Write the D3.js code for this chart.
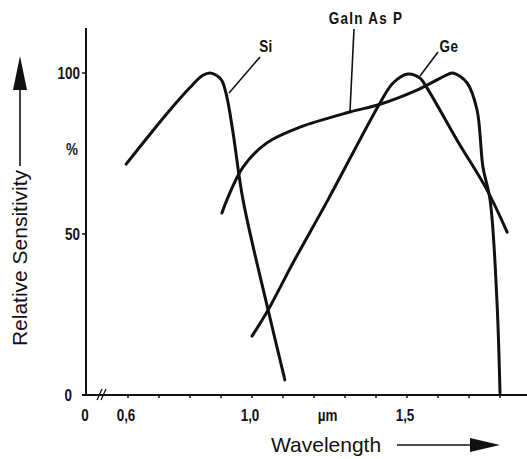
<!DOCTYPE html>
<html><head><meta charset="utf-8">
<script src="https://cdn.jsdelivr.net/npm/d3@7"></script>
<style>
html,body{margin:0;padding:0;background:#fff;}
svg{display:block;}
.lab{font-family:"Liberation Sans",Arial,sans-serif;font-weight:bold;font-size:16px;fill:#111;}
.big{font-family:"Liberation Sans",Arial,sans-serif;font-size:21px;fill:#111;}
</style></head>
<body>
<script>
// Data (wavelength in µm, relative sensitivity in %)
const siWavelength = [0.594,0.671,0.745,0.800,0.840,0.865,0.885,0.903,0.919,0.939,0.971,1.052,1.106];
const siSensitivity = [71.7,81.0,89.6,95.5,99.2,100,99.3,97.6,92.5,81.4,60.6,26.4,4.7];

const gaWavelength = [0.903,0.919,0.971,1.048,1.155,1.316,1.413,1.532,1.629,1.648,1.694,1.726,1.745,1.768,1.790,1.800];
const gaSensitivity = [56.5,60.6,70.8,78.3,83.2,87.9,90.3,94.7,99.4,100,96.9,88.5,70.8,60.6,29.5,0.6];

const geWavelength = [1.0,1.052,1.132,1.245,1.413,1.455,1.503,1.542,1.565,1.661,1.758,1.823];
const geSensitivity = [18.3,26.4,41.0,60.6,90.7,96.9,99.7,98.4,95.3,79.2,63.7,50.6];

const xTickValues = [0.6,0.7,0.8,0.9,1.0,1.1,1.2,1.3,1.4,1.5,1.6,1.7,1.8];
const xTickLabels = [[0.6,"0,6"],[1.0,"1,0"],[1.25,"µm"],[1.5,"1,5"]];
const yTickValues = [0,50,100];
const seriesNames = ["Si","GaIn As P","Ge"];

const W = 527, H = 459;
const svg = d3.select("body").append("svg").attr("width",W).attr("height",H);

const x = d3.scaleLinear().domain([0.6,1.8]).range([128,500]);
const y = d3.scaleLinear().domain([0,100]).range([395,73]);
const originX = 86;

function label(px, py, t, anchor, spacing){
  return svg.append("text").attr("class","lab")
    .attr("transform",`translate(${px},${py}) scale(0.84,1)`)
    .attr("text-anchor",anchor)
    .style("letter-spacing", spacing || "0px")
    .text(t);
}

// axes
svg.append("line").attr("x1",originX).attr("x2",originX).attr("y1",28).attr("y2",y(0))
  .attr("stroke","#111").attr("stroke-width",2);
svg.append("line").attr("x1",originX-4).attr("x2",W).attr("y1",y(0)).attr("y2",y(0))
  .attr("stroke","#111").attr("stroke-width",2);

// y ticks
yTickValues.forEach(v=>{
  svg.append("line").attr("x1",originX-4).attr("x2",originX).attr("y1",y(v)).attr("y2",y(v))
    .attr("stroke","#111").attr("stroke-width",1.5);
  label(v===0 ? 72 : 80, y(v)+6, v, "end");
});
label(72, 155, "%", "middle");

// x ticks
xTickValues.forEach(v=>{
  svg.append("line").attr("x1",x(v)).attr("x2",x(v)).attr("y1",y(0)).attr("y2",y(0)+3)
    .attr("stroke","#111").attr("stroke-width",1.5);
});
label(originX-1, 421, "0", "middle");
xTickLabels.forEach(([v,t])=>{ label(x(v)-2, 421, t, "middle"); });

// axis break
[0,4].forEach(d=>{
  svg.append("line").attr("x1",97+d).attr("y1",400).attr("x2",102+d).attr("y2",389)
    .attr("stroke","#111").attr("stroke-width",1.3);
});

// curves
const line = d3.line().x(d=>x(d[0])).y(d=>y(d[1])).curve(d3.curveCatmullRom.alpha(0.5));
const series = [
  d3.zip(siWavelength, siSensitivity),
  d3.zip(gaWavelength, gaSensitivity),
  d3.zip(geWavelength, geSensitivity)
];
series.forEach(s=>{
  svg.append("path").attr("d",line(s)).attr("fill","none").attr("stroke","#111")
    .attr("stroke-width",3).attr("stroke-linecap","round").attr("stroke-linejoin","round");
});

// curve labels with leaders
const leaders = [[260,57,229,93],[354,29,350,111],[438,52,420,76]];
const labelPos = [[266,52],[366,24],[449,52]];
seriesNames.forEach((n,i)=>{
  label(labelPos[i][0], labelPos[i][1], n, "middle", i===1 ? "1.5px" : "0.5px");
  const l = leaders[i];
  svg.append("line").attr("x1",l[0]).attr("y1",l[1]).attr("x2",l[2]).attr("y2",l[3])
    .attr("stroke","#111").attr("stroke-width",1.6);
});

// axis titles
svg.append("text").attr("class","big").attr("x",271).attr("y",452).text("Wavelength");
svg.append("line").attr("x1",397).attr("x2",472).attr("y1",445).attr("y2",445).attr("stroke","#111").attr("stroke-width",1.6);
svg.append("path").attr("d","M470,438 L500,445 L470,452 Z").attr("fill","#111");

svg.append("text").attr("class","big").attr("transform","translate(27,258) rotate(-90)")
  .attr("text-anchor","middle").text("Relative Sensitivity");
svg.append("line").attr("x1",20).attr("x2",20).attr("y1",166).attr("y2",88).attr("stroke","#111").attr("stroke-width",1.6);
svg.append("path").attr("d","M13,90 L20,56 L27,90 Z").attr("fill","#111");
</script>
</body></html>
